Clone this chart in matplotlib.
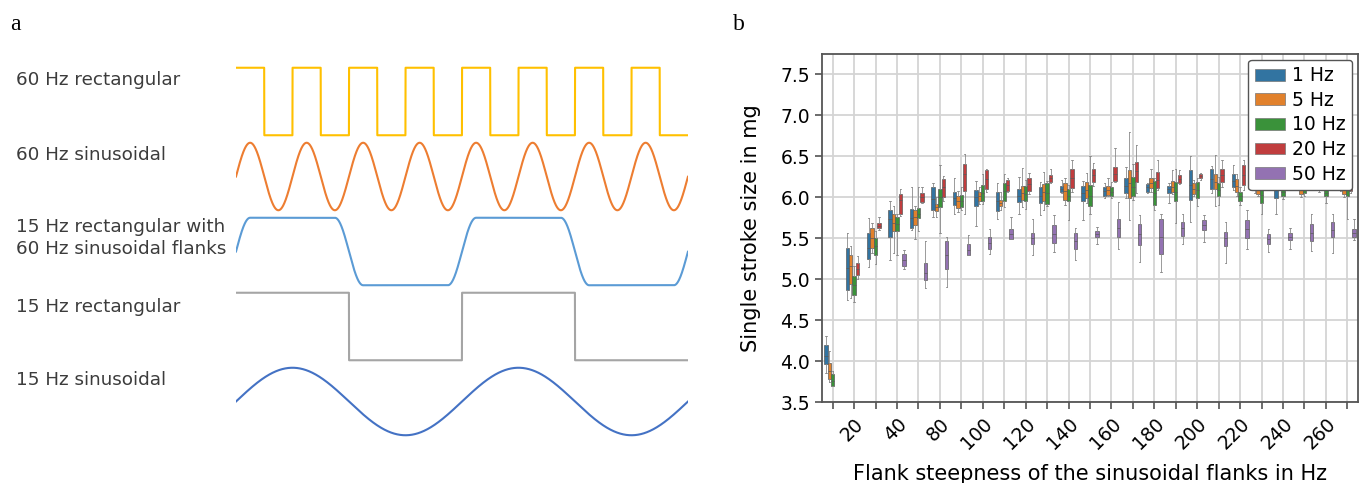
import numpy as np
import matplotlib
matplotlib.use("Agg")
import matplotlib.pyplot as plt
from matplotlib.patches import Patch

# ---------------- data ----------------
# panel a: waveforms (frequencies in Hz)
f_fast = 60
f_slow = 15
wave_names = ["60 Hz rectangular", "60 Hz sinusoidal",
              "15 Hz rectangular with\n60 Hz sinusoidal flanks",
              "15 Hz rectangular", "15 Hz sinusoidal"]
wave_colors = ["#ffc000", "#ed7d31", "#5b9bd5", "#a5a5a5", "#4472c4"]

# panel b: flank steepness categories
flank_hz = [10, 20, 30, 40, 60, 80, 90, 100, 110, 120, 130, 140, 150, 160,
            170, 180, 190, 200, 210, 220, 230, 240, 250, 260, 270]
hue_labels = ["1 Hz", "5 Hz", "10 Hz", "20 Hz", "50 Hz"]
hue_colors = ["#3274a1", "#e1812c", "#3a923a", "#c03d3e", "#9372b2"]

# box stats per category: (whislo, q1, median, q3, whishi), None = no data
stats_1hz = [
    (3.86, 3.96, 4.06, 4.20, 4.30), (4.74, 4.87, 5.14, 5.38, 5.57),
    (5.15, 5.25, 5.38, 5.57, 5.75), (5.24, 5.51, 5.73, 5.85, 5.95),
    (5.60, 5.62, 5.75, 5.86, 6.13), (5.76, 5.84, 5.98, 6.12, 6.18),
    (5.80, 5.91, 5.99, 6.07, 6.24), (5.65, 5.89, 6.00, 6.09, 6.20),
    (5.74, 5.83, 5.96, 6.07, 6.18), (5.80, 5.94, 6.01, 6.10, 6.25),
    (5.78, 5.93, 6.02, 6.12, 6.19), (6.05, 6.07, 6.10, 6.14, 6.21),
    (5.72, 5.96, 6.05, 6.14, 6.20), (5.99, 6.02, 6.08, 6.13, 6.17),
    (5.99, 6.05, 6.14, 6.23, 6.37), (6.05, 6.07, 6.12, 6.16, 6.17),
    (5.93, 6.05, 6.10, 6.14, 6.17), (5.70, 5.97, 6.15, 6.33, 6.50),
    (6.05, 6.10, 6.22, 6.35, 6.38), (6.09, 6.12, 6.20, 6.29, 6.39),
    (6.05, 6.09, 6.16, 6.24, 6.30), (5.80, 5.99, 6.10, 6.22, 6.30),
    (6.18, 6.24, 6.30, 6.36, 6.45), (6.06, 6.09, 6.15, 6.22, 6.30),
    (6.08, 6.11, 6.16, 6.22, 6.28)]
stats_5hz = [
    (3.74, 3.78, 3.88, 3.98, 4.12), (4.77, 4.94, 5.16, 5.29, 5.40),
    (5.32, 5.38, 5.50, 5.63, 5.69), (5.32, 5.59, 5.69, 5.80, 5.89),
    (5.49, 5.66, 5.76, 5.85, 5.89), (5.76, 5.83, 5.88, 5.92, 6.00),
    (5.82, 5.87, 5.95, 6.01, 6.08), (5.92, 5.95, 6.02, 6.07, 6.12),
    (5.84, 5.89, 5.93, 5.97, 6.06), (5.88, 5.97, 6.05, 6.14, 6.36),
    (5.85, 5.96, 6.06, 6.16, 6.31), (5.91, 5.97, 6.08, 6.18, 6.23),
    (5.93, 5.99, 6.09, 6.19, 6.30), (6.01, 6.03, 6.09, 6.14, 6.23),
    (5.72, 5.99, 6.17, 6.33, 6.80), (6.07, 6.11, 6.17, 6.23, 6.35),
    (6.04, 6.07, 6.13, 6.20, 6.33), (6.01, 6.04, 6.10, 6.17, 6.21),
    (5.89, 6.10, 6.19, 6.28, 6.52), (6.01, 6.07, 6.14, 6.22, 6.29),
    (6.01, 6.04, 6.09, 6.14, 6.20), (6.15, 6.22, 6.28, 6.34, 6.42),
    (6.00, 6.04, 6.11, 6.18, 6.25), (6.18, 6.22, 6.27, 6.32, 6.40),
    (6.00, 6.04, 6.12, 6.20, 6.30)]
stats_10hz = [
    (3.69, 3.70, 3.76, 3.84, 3.88), (4.72, 4.81, 4.93, 5.04, 5.16),
    (5.18, 5.30, 5.40, 5.50, 5.59), (5.30, 5.59, 5.67, 5.76, 5.79),
    (5.59, 5.75, 5.80, 5.87, 6.13), (5.56, 5.88, 6.00, 6.10, 6.40),
    (5.84, 5.88, 5.96, 6.03, 6.12), (5.92, 5.95, 6.05, 6.15, 6.28),
    (5.88, 5.95, 6.08, 6.17, 6.28), (5.86, 5.96, 6.04, 6.14, 6.21),
    (5.89, 5.92, 6.05, 6.17, 6.20), (5.72, 5.95, 6.02, 6.10, 6.15),
    (5.80, 5.89, 6.02, 6.15, 6.50), (5.99, 6.01, 6.07, 6.13, 6.19),
    (5.97, 6.02, 6.13, 6.25, 6.41), (5.85, 5.91, 6.05, 6.20, 6.23),
    (5.68, 5.95, 6.07, 6.19, 6.35), (5.89, 5.99, 6.09, 6.19, 6.23),
    (5.91, 6.01, 6.09, 6.17, 6.25), (5.91, 5.95, 6.01, 6.07, 6.13),
    (5.80, 5.93, 6.03, 6.14, 6.20), (5.98, 6.01, 6.06, 6.12, 6.18),
    (6.01, 6.05, 6.10, 6.15, 6.20), (5.93, 6.01, 6.05, 6.09, 6.12),
    (5.73, 6.01, 6.10, 6.19, 6.28)]
stats_20hz = [
    None, (5.00, 5.05, 5.12, 5.20, 5.28),
    (5.60, 5.62, 5.65, 5.69, 5.76), (5.77, 5.80, 5.97, 6.04, 6.10),
    (5.93, 5.94, 6.00, 6.05, 6.12), (5.96, 6.00, 6.12, 6.22, 6.26),
    (5.80, 6.08, 6.28, 6.41, 6.53), (6.06, 6.10, 6.22, 6.33, 6.35),
    (6.06, 6.08, 6.15, 6.21, 6.23), (6.04, 6.08, 6.16, 6.23, 6.30),
    (6.17, 6.19, 6.23, 6.27, 6.35), (6.07, 6.11, 6.24, 6.34, 6.46),
    (6.14, 6.19, 6.27, 6.35, 6.42), (6.19, 6.20, 6.29, 6.37, 6.60),
    (6.05, 6.19, 6.32, 6.43, 6.64), (6.09, 6.11, 6.21, 6.31, 6.46),
    (6.16, 6.18, 6.22, 6.27, 6.33), (6.21, 6.23, 6.26, 6.29, 6.30),
    (6.13, 6.19, 6.27, 6.35, 6.46), (6.09, 6.15, 6.27, 6.39, 6.46),
    (6.20, 6.24, 6.30, 6.36, 6.45), (6.18, 6.23, 6.30, 6.37, 6.45),
    (6.20, 6.25, 6.31, 6.38, 6.46), (6.12, 6.14, 6.17, 6.20, 6.25),
    (6.05, 6.08, 6.14, 6.21, 6.30)]
stats_50hz = [
    None, None, None, (5.12, 5.16, 5.24, 5.31, 5.36),
    (4.89, 4.99, 5.08, 5.20, 5.47), (4.90, 5.13, 5.30, 5.47, 5.51),
    (5.29, 5.29, 5.36, 5.43, 5.54), (5.31, 5.37, 5.44, 5.51, 5.61),
    (5.49, 5.49, 5.55, 5.61, 5.76), (5.29, 5.43, 5.50, 5.57, 5.74),
    (5.33, 5.44, 5.55, 5.66, 5.78), (5.23, 5.37, 5.47, 5.57, 5.63),
    (5.43, 5.51, 5.55, 5.59, 5.64), (5.37, 5.52, 5.63, 5.74, 5.94),
    (5.21, 5.42, 5.55, 5.67, 5.78), (5.09, 5.31, 5.52, 5.73, 5.80),
    (5.43, 5.53, 5.62, 5.70, 5.80), (5.45, 5.60, 5.66, 5.72, 5.78),
    (5.20, 5.41, 5.50, 5.58, 5.70), (5.37, 5.50, 5.61, 5.72, 5.84),
    (5.33, 5.43, 5.49, 5.55, 5.61), (5.37, 5.48, 5.52, 5.56, 5.63),
    (5.35, 5.47, 5.57, 5.67, 5.80), (5.32, 5.51, 5.60, 5.70, 5.80),
    (5.48, 5.51, 5.56, 5.61, 5.74)]
all_stats = [stats_1hz, stats_5hz, stats_10hz, stats_20hz, stats_50hz]

W, H = 1365, 483
fig = plt.figure(figsize=(W / 100, H / 100), dpi=100)

# ---------------- panel a ----------------
T = 2 / f_slow
t = np.linspace(0, T, 6000, endpoint=False)
rect60 = np.where((t * f_fast) % 1 < 0.5, 1.0, -1.0)
sin60 = np.sin(2 * np.pi * f_fast * t)
# rectangle with sinusoidal flanks: each flank is half a 60 Hz period
h = 1 / (4 * f_fast)
tau = t % (1 / f_slow)
r = np.where(tau > 1 / (2 * f_slow), tau - 1 / f_slow, tau)
fl = tau - 1 / (2 * f_slow)
flank15 = np.where(np.abs(r) <= 1 / (4 * f_slow),
                   np.sin(2 * np.pi * f_fast * np.clip(r, -h, h)),
                   -np.sin(2 * np.pi * f_fast * np.clip(fl, -h, h)))
rect15 = np.where((t * f_slow) % 1 < 0.5, 1.0, -1.0)
sin15 = np.sin(2 * np.pi * f_slow * t)
waves = [rect60, sin60, flank15, rect15, sin15]

ax_a = fig.add_axes([236 / W, 6.5 / H, 452 / W, 450 / H])
amp = 0.45
for k, (wv, c) in enumerate(zip(waves, wave_colors)):
    ax_a.plot(t, -k + amp * wv, color=c, lw=1.5)
ax_a.set_xlim(0, T)
ax_a.set_ylim(-5, 1)
ax_a.axis("off")

label_y = [80, 155, 238, 307, 380]
for name, yy in zip(wave_names, label_y):
    fig.text(16 / W, 1 - yy / H, name, fontsize=13.2, color="#3c3c3c",
             va="center", ha="left", linespacing=1.3)

fig.text(10 / W, 1 - 25 / H, "a", fontsize=17, family="Liberation Serif", va="center")
fig.text(733 / W, 1 - 25 / H, "b", fontsize=17, family="Liberation Serif", va="center")

# ---------------- panel b ----------------
ax = fig.add_axes([822 / W, 1 - 402 / H, 536 / W, 348 / H])
n_hue = len(hue_labels)
bw = 0.8 / n_hue
x = np.arange(len(flank_hz))
for j, (st, c) in enumerate(zip(all_stats, hue_colors)):
    bstats, pos = [], []
    for i, s in enumerate(st):
        if s is None:
            continue
        lo, q1, med, q3, hi = s
        bstats.append(dict(whislo=lo, q1=q1, med=med, q3=q3, whishi=hi))
        pos.append(x[i] - 0.4 + bw * (j + 0.5))
    ax.bxp(bstats, positions=pos, widths=bw * 0.98, patch_artist=True,
           showfliers=False, manage_ticks=False, capwidths=bw * 0.4,
           boxprops=dict(facecolor=c, edgecolor="#5a5a5a", lw=0.5),
           whiskerprops=dict(color="#8a8a8a", lw=0.6),
           capprops=dict(color="#8a8a8a", lw=0.6),
           medianprops=dict(color="#5a5a5a", lw=0.5))

ax.set_xlim(-0.5, len(flank_hz) - 0.5)
ax.set_ylim(3.5, 7.75)
ax.set_yticks(np.arange(3.5, 7.51, 0.5))
ax.set_xticks(x)
ax.set_xticklabels([str(v) if i % 2 == 1 else "" for i, v in enumerate(flank_hz)],
                   rotation=45, ha="right", va="top", rotation_mode="anchor")
ax.tick_params(labelsize=13.5, length=5, width=1.1, color="#444444")
ax.tick_params(axis="x", pad=4)
ax.grid(True, color="#d4d4d4", lw=1.3)
ax.set_axisbelow(True)
for sp in ax.spines.values():
    sp.set_color("#555555")
    sp.set_linewidth(1.3)
ax.set_ylabel("Single stroke size in mg", fontsize=15, labelpad=14)
ax.set_xlabel("Flank steepness of the sinusoidal flanks in Hz", fontsize=15, labelpad=8)

handles = [Patch(facecolor=c, edgecolor="#777777", lw=0.5) for c in hue_colors]
leg = ax.legend(handles, hue_labels, loc="upper right", fontsize=13.5,
                handlelength=1.6, handleheight=0.6, borderaxespad=0.3,
                labelspacing=0.3, handletextpad=0.4, borderpad=0.35,
                framealpha=1, edgecolor="#555555")
leg.set_zorder(10)

fig.savefig("out.png", dpi=100)
